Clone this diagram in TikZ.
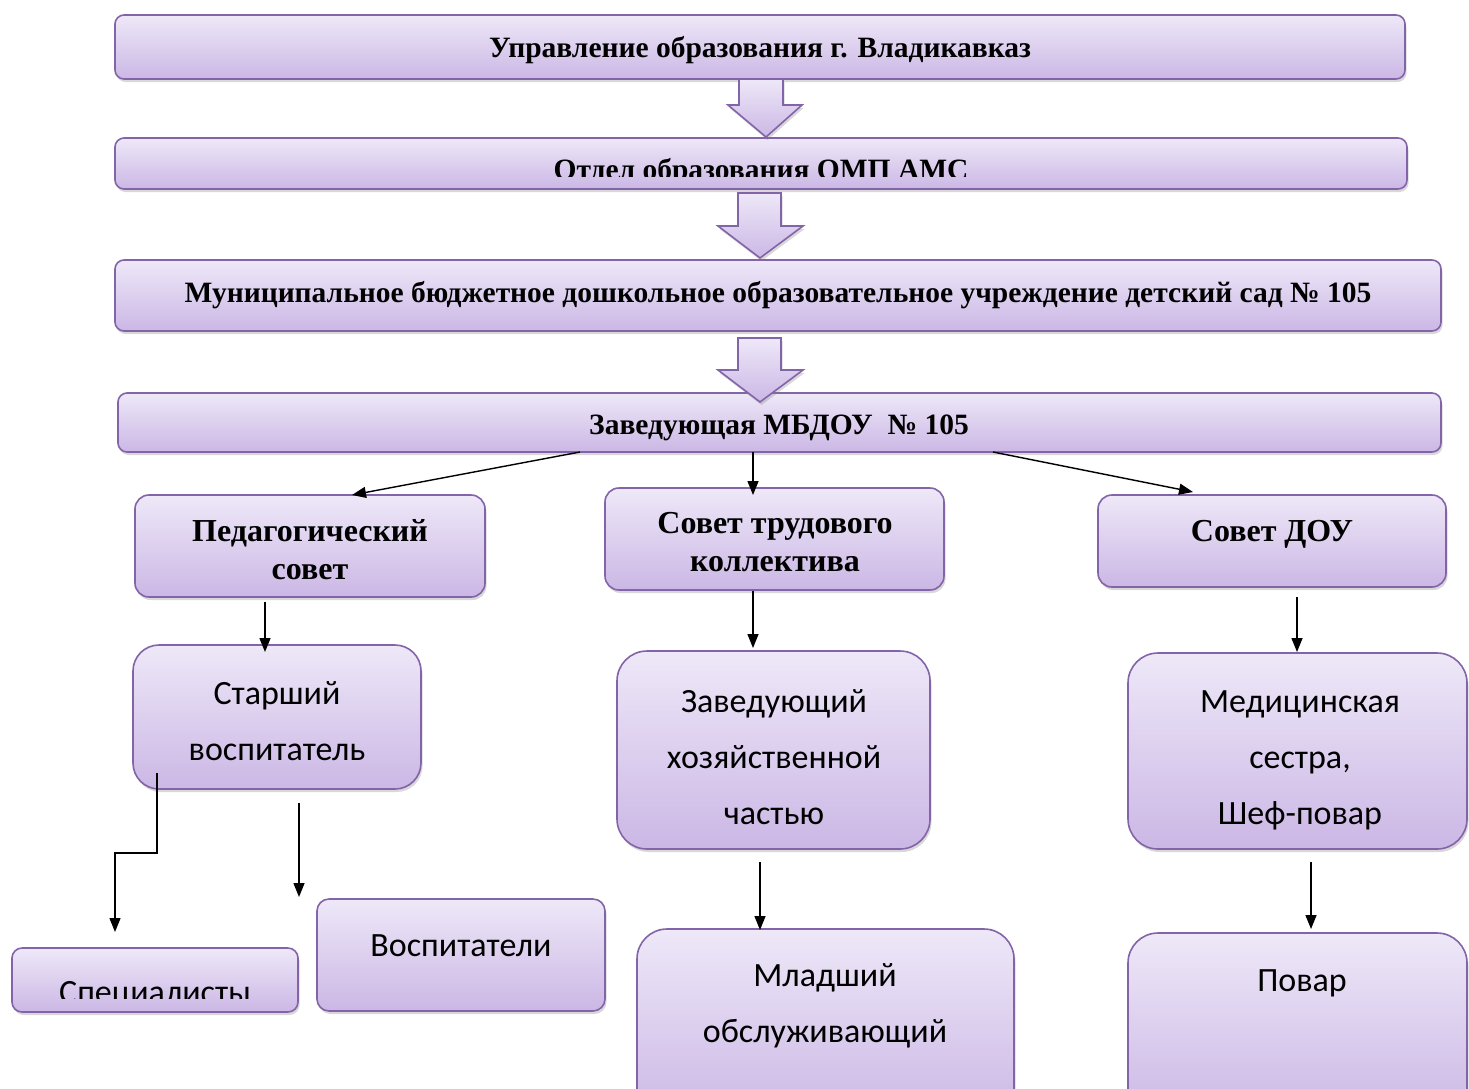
\documentclass[tikz,border=0pt]{standalone}
\usepackage{fontspec}
\setmainfont{Liberation Serif}
\newfontfamily\sansfam{Carlito}
\usetikzlibrary{arrows.meta,shadows,calc}
\definecolor{ctop}{HTML}{EEE8F8}
\definecolor{cbot}{HTML}{CBB7E5}
\definecolor{bord}{HTML}{8464A8}
\tikzset{
  box/.style={draw=bord, line width=1.6pt, top color=ctop, bottom color=cbot,
    inner sep=0pt, outer sep=0pt,
    drop shadow={shadow xshift=1.5pt, shadow yshift=-3pt, opacity=0.3}},
  blockarrow/.style={draw=bord, line width=1.6pt, top color=ctop, bottom color=cbot,
    drop shadow={shadow xshift=1.5pt, shadow yshift=-3pt, opacity=0.3}},
  topfont/.style={font=\bfseries\fontsize{29.5}{33}\selectfont, inner sep=0pt},
  midfont/.style={font=\bfseries\fontsize{32}{38}\selectfont, align=center, inner sep=0pt},
  sansfont/.style={font=\sansfam\fontsize{34}{56}\selectfont, align=center, inner sep=0pt},
  arr/.style={-{Triangle[length=14pt,width=11pt]}, line width=1.4pt, black}
}
\newcommand{\boxnode}[6]{%
  \node[box, rounded corners=#6pt, minimum width={(#4-#2)*1pt}, minimum height={(#5-#3)*1pt}]
    (#1) at ({(#2+#4)/2},{(#3+#5)/2}) {};}
\begin{document}
\begin{tikzpicture}[x=1pt,y=-1pt]
\clip (0,0) rectangle (1469,1088);
\fill[white] (0,0) rectangle (1469,1088);

% top chain
\boxnode{b1}{115}{15}{1405}{79}{9}
\boxnode{b2}{115}{138}{1407}{189}{9}
\boxnode{b3}{115}{260}{1441}{331}{9}
\boxnode{b4}{118}{393}{1441}{452}{9}

\path[blockarrow] (739,79) -- (783,79) -- (783,105) -- (802,105) -- (766,137) -- (728,105) -- (739,105) -- cycle;
\path[blockarrow] (738,193) -- (781,193) -- (781,226) -- (803,226) -- (760,258) -- (718,226) -- (738,226) -- cycle;
\path[blockarrow] (738,338) -- (781,338) -- (781,370) -- (803,370) -- (760,402) -- (718,370) -- (738,370) -- cycle;

\node[topfont] (t1) at (760,50) {Управление образования г. Владикавказ};
\begin{scope}
  \clip (115,138) rectangle (1407,176);
  \node[topfont, anchor=base] (t2) at (761,179) {Отдел образования ОМП АМС};
\end{scope}
\node[topfont] (t3) at (778,295) {Муниципальное бюджетное дошкольное образовательное учреждение детский сад № 105};
\node[topfont] (t4) at (779,428) {Заведующая МБДОУ\ \ № 105};

% level 2
\boxnode{ped}{135}{495}{485}{597}{14}
\boxnode{stk}{605}{488}{944}{590}{14}
\boxnode{sdou}{1098}{495}{1446}{587}{14}
\node[midfont] (tped) at (310,550) {Педагогический\\совет};
\node[midfont] (tstk) at (775,542) {Совет трудового\\коллектива};
\node[midfont] (tsdou) at (1272,534) {Совет ДОУ};

% level 3
\boxnode{star}{133}{645}{421}{789}{26}
\boxnode{zav}{617}{651}{930}{849}{30}
\boxnode{med}{1128}{653}{1467}{849}{30}
\node[sansfont] (tstar) at (277,721) {Старший\\воспитатель};
\node[sansfont] (tzav) at (774,757) {Заведующий\\хозяйственной\\частью};
\node[sansfont] (tmed) at (1300,760) {Медицинская\\сестра,\\Шеф-повар};

% level 4
\boxnode{spec}{12}{948}{298}{1012}{10}
\boxnode{vos}{317}{899}{605}{1011}{12}
\boxnode{mlad}{637}{929}{1014}{1120}{30}
\boxnode{povar}{1128}{933}{1467}{1120}{30}
\begin{scope}
  \clip (12,948) rectangle (298,998);
  \node[sansfont, anchor=base] (tspec) at (155,1003) {Специалисты};
\end{scope}
\node[sansfont] (tvos) at (461,946) {Воспитатели};
\node[sansfont] (tmlad) at (825,1006) {Младший\\обслуживающий};
\node[sansfont] (tpovar) at (1302,983) {Повар};

% connectors
\coordinate (c1s) at (580,452);  \coordinate (c1e) at (352,495);
\coordinate (c2s) at (753,452);  \coordinate (c2e) at (753,495);
\coordinate (c3s) at (993,452);  \coordinate (c3e) at (1193,492);
\coordinate (c4s) at (265,602);  \coordinate (c4e) at (265,652);
\coordinate (c5s) at (753,591);  \coordinate (c5e) at (753,648);
\coordinate (c6s) at (1297,597); \coordinate (c6e) at (1297,652);
\coordinate (c7s) at (157,773);  \coordinate (c7e) at (115,932);
\coordinate (c8s) at (299,803);  \coordinate (c8e) at (299,897);
\coordinate (c9s) at (760,862);  \coordinate (c9e) at (760,930);
\coordinate (c10s) at (1311,862); \coordinate (c10e) at (1311,929);

\draw[arr] (c1s) -- (c1e);
\draw[arr] (c2s) -- (c2e);
\draw[arr] (c3s) -- (c3e);
\draw[arr] (c4s) -- (c4e);
\draw[arr] (c5s) -- (c5e);
\draw[arr] (c6s) -- (c6e);
\draw[arr] (c7s) -- (157,853) -- (115,853) -- (c7e);
\draw[arr] (c8s) -- (c8e);
\draw[arr] (c9s) -- (c9e);
\draw[arr] (c10s) -- (c10e);
\end{tikzpicture}
\end{document}
